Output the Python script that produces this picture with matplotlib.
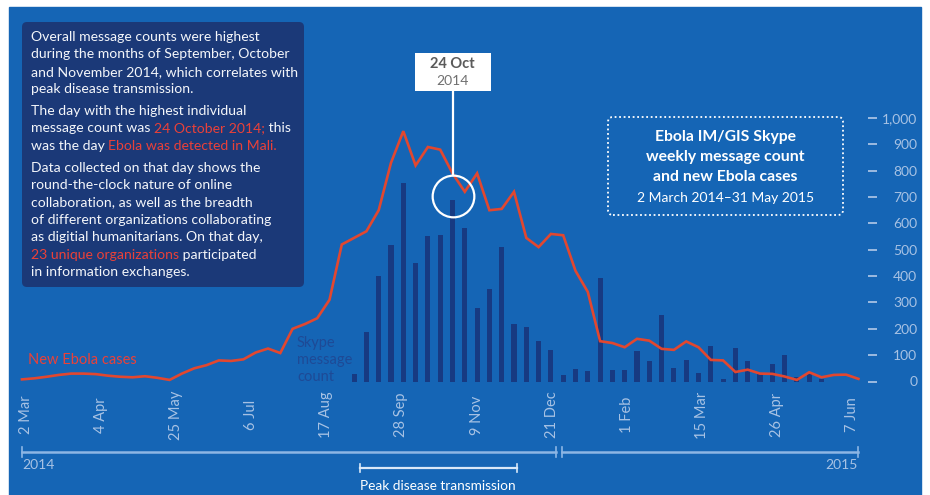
import numpy as np
import matplotlib.pyplot as plt
from matplotlib.patches import FancyBboxPatch, Rectangle
from matplotlib.lines import Line2D
import matplotlib.transforms as mtransforms

plt.rcParams['font.family'] = ['Lato', 'DejaVu Sans']

# weekly new Ebola cases, 2 Mar 2014 onwards (one value per week)
cases = [8, 12, 18, 25, 30, 30, 28, 22, 18, 16, 20, 14, 6, 30, 50, 62, 80, 78,
         84, 110, 125, 108, 200, 218, 240, 310, 520, 545, 570, 650, 830, 950,
         820, 890, 880, 790, 720, 790, 650, 655, 720, 545, 510, 560, 555, 420,
         340, 153, 146, 130, 162, 155, 124, 120, 152, 130, 82, 80, 36, 45, 30,
         29, 19, 6, 35, 16, 25, 26, 10]

# weekly Skype message counts (first week with messages is week 27)
msg_start = 27
messages = [30, 187, 400, 519, 753, 450, 551, 556, 690, 582, 279, 351, 512,
            219, 206, 153, 121, 23, 48, 38, 393, 44, 45, 117, 76, 254, 50, 82,
            33, 133, 10, 128, 76, 27, 67, 101, 16, 29, 8]

date_labels = ['2 Mar', '4 Apr', '25 May', '6 Jul', '17 Aug', '28 Sep',
               '9 Nov', '21 Dec', '1 Feb', '15 Mar', '26 Apr', '7 Jun']
y_ticks = list(range(0, 1001, 100))

peak_week = 35  # 24 Oct 2014

BLUE = '#1565B5'
NAVY = '#173A82'
BOX = '#1B3978'
RED_LINE = '#E2472F'
RED_TXT = '#EA4139'
PALE = '#A7C2E4'

W, H = 930, 495
fig = plt.figure(figsize=(W / 100, H / 100), dpi=100, facecolor='white')
fig.patches.append(Rectangle((9 / W, 0), (921 - 9) / W, (H - 7) / H,
                             transform=fig.transFigure, color=BLUE, zorder=-2))

# axes: week 0 at x=22px, 12.3px per week; value 0 at y=381.5px, 1000 at 118px
pxw = 12.3
left_px = 22 - 0.5 * pxw
right_px = 877
ax = fig.add_axes([left_px / W, (H - 381.5) / H, (right_px - left_px) / W, (381.5 - 118) / H])
ax.set_zorder(2)
ax.set_facecolor('none')
ax.set_xlim(-0.5, (right_px - 22) / pxw)
ax.set_ylim(0, 1000)
for s in ax.spines.values():
    s.set_visible(False)

weeks = np.arange(len(cases))
msg_weeks = np.arange(msg_start, msg_start + len(messages))
ax.bar(msg_weeks, messages, width=0.42, color=NAVY, zorder=2)
ax.plot(weeks, cases, color=RED_LINE, lw=1.9, zorder=3, solid_joinstyle='miter')

ax.set_xticks([])
ax.yaxis.tick_right()
ax.set_yticks(y_ticks)
ax.set_yticklabels([f'{v:,}' for v in y_ticks])
ax.tick_params(axis='y', direction='in', length=6.5, width=1.3, color=PALE,
               labelcolor=PALE, labelsize=10, pad=29)
for t in ax.yaxis.get_major_ticks():
    t.label2.set_horizontalalignment('right')

# date labels under the axis
bt = mtransforms.blended_transform_factory(ax.transData, fig.transFigure)
for xpos, lab in zip(np.linspace(0.3, 67.5, len(date_labels)), date_labels):
    ax.text(xpos, 1 - 415 / H, lab, transform=bt, rotation=90, ha='center',
            va='center', color=PALE, fontsize=10.5, clip_on=False)

# peak annotation
px_per_val = (381.5 - 118) / 1000
peak_val = messages[peak_week - msg_start]
ax.plot([peak_week], [peak_val + 15], marker='o', ms=30, mfc='none', mec='white',
        mew=1.6, zorder=4, clip_on=False)
box_bottom = (381.5 - 91) / px_per_val
box_top = (381.5 - 53) / px_per_val
ax.plot([peak_week, peak_week], [peak_val + 15 + 21 / px_per_val, box_bottom],
        color='white', lw=1.6, clip_on=False, zorder=4)
half_w = 38 / pxw
ax.add_patch(Rectangle((peak_week - half_w, box_bottom), 2 * half_w, box_top - box_bottom,
                       facecolor='white', edgecolor='none', clip_on=False, zorder=5))
ax.text(peak_week, (381.5 - 64) / px_per_val, '24 Oct', ha='center', va='center',
        fontsize=10.5, fontweight='bold', color='#5A5A5A', zorder=6, clip_on=False)
ax.text(peak_week, (381.5 - 81) / px_per_val, '2014', ha='center', va='center',
        fontsize=10, color='#707070', zorder=6, clip_on=False)

# series labels
ax.text(28 / W, 1 - 360 / H, 'New Ebola cases', transform=fig.transFigure,
        color=RED_TXT, fontsize=10.5, va='center', ha='left', clip_on=False)
fig.text(297 / W, 1 - 360 / H, 'Skype\nmessage\ncount', color='#1E4A96',
         fontsize=10.5, va='center', ha='left', linespacing=1.25)

# left text box
inch = fig.dpi_scale_trans
fig.patches.append(FancyBboxPatch((0.22, (H - 287) / 100), 2.82, 2.65,
                                  boxstyle='round,pad=0,rounding_size=0.05',
                                  transform=inch, facecolor=BOX, edgecolor='none',
                                  zorder=1))
paragraphs = [
    [[('Overall message counts were highest', 'w')],
     [('during the months of September, October', 'w')],
     [('and November 2014, which correlates with', 'w')],
     [('peak disease transmission.', 'w')]],
    [[('The day with the highest individual', 'w')],
     [('message count was ', 'w'), ('24 October 2014;', 'r'), (' this', 'w')],
     [('was the day ', 'w'), ('Ebola was detected in Mali.', 'r')]],
    [[('Data collected on that day shows the', 'w')],
     [('round-the-clock nature of online', 'w')],
     [('collaboration, as well as the breadth', 'w')],
     [('of different organizations collaborating', 'w')],
     [('as digitial humanitarians. On that day,', 'w')],
     [('23 unique organizations', 'r'), (' participated', 'w')],
     [('in information exchanges.', 'w')]],
]
cmap = {'w': '#F4F6FA', 'r': RED_TXT}
fs_box = 10.1
y = 43
for para in paragraphs:
    for line in para:
        prev = None
        for seg, c in line:
            if prev is None:
                prev = ax.text(0.31, (H - y) / 100, seg, transform=inch, color=cmap[c],
                               fontsize=fs_box, va='bottom', ha='left', zorder=6,
                               clip_on=False)
            else:
                prev = ax.annotate(seg, xy=(1, 0), xycoords=prev, va='bottom', ha='left',
                                   color=cmap[c], fontsize=fs_box, zorder=6,
                                   annotation_clip=False)
        y += 17.4
    y += 4.5

# title box
fig.patches.append(FancyBboxPatch((6.08, (H - 215) / 100), 2.35, 0.98,
                                  boxstyle='round,pad=0,rounding_size=0.05',
                                  transform=inch, facecolor='none', edgecolor='white',
                                  lw=1.3, linestyle=(0, (1, 1.5)), zorder=2))
for ty, txt, fw, fs in [(137, 'Ebola IM/GIS Skype', 'bold', 11.3),
                        (157, 'weekly message count', 'bold', 11.3),
                        (177, 'and new Ebola cases', 'bold', 11.3),
                        (198, '2 March 2014\u201331 May 2015', 'normal', 10)]:
    fig.text(7.255, (H - ty) / 100, txt, transform=inch, ha='center', va='center',
             color='white', fontweight=fw, fontsize=fs)

# timeline at the bottom
def fig_line(x0, x1, y0, y1, color, lw):
    fig.add_artist(Line2D([x0 / W, x1 / W], [1 - y0 / H, 1 - y1 / H], color=color, lw=lw,
                          transform=fig.transFigure))

TL = '#8DB6E4'
fig_line(22, 556, 452, 452, TL, 1.8)
fig_line(562, 858, 452, 452, TL, 1.8)
for xx in (22, 556, 562, 858):
    fig_line(xx, xx, 447, 457, TL, 1.2)
fig.text(22 / W, 1 - 465 / H, '2014', color=PALE, fontsize=10, ha='left', va='center')
fig.text(858 / W, 1 - 465 / H, '2015', color=PALE, fontsize=10, ha='right', va='center')

PK = '#D9E8F8'
fig_line(360, 517, 468, 468, PK, 1.6)
for xx in (360, 517):
    fig_line(xx, xx, 464, 472, PK, 1.2)
fig.text(438 / W, 1 - 486 / H, 'Peak disease transmission', color='white', fontsize=9.8,
         ha='center', va='center')

fig.savefig('out.png', dpi=100, facecolor=fig.get_facecolor())
